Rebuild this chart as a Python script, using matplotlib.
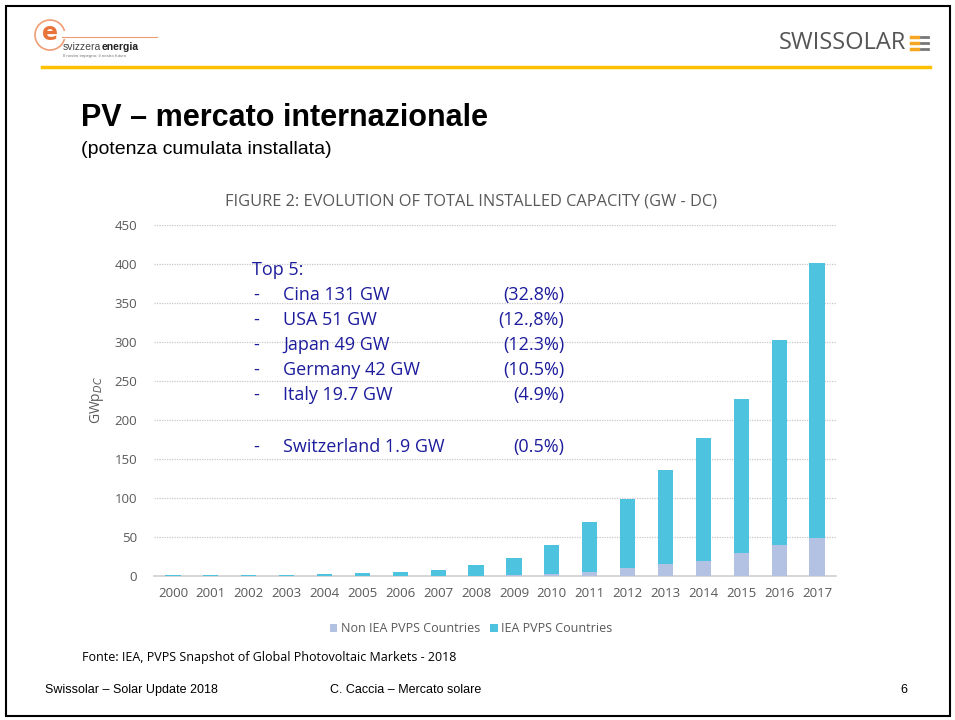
import matplotlib.pyplot as plt
import numpy as np
from matplotlib.patches import Rectangle, Arc

years = [str(y) for y in range(2000, 2018)]
non_iea = [0, 0, 0, 0.1, 0.2, 0.3, 0.4, 0.5, 0.6, 1.0, 2.5, 5, 10, 15, 19, 29, 40, 49]
iea = [0.8, 1.0, 1.2, 1.4, 2.4, 3.4, 5.1, 7.2, 13.4, 22, 37.5, 64, 89, 121, 157.5, 197.5, 262.5, 352]

top5_names = ["Cina 131 GW", "USA 51 GW", "Japan 49 GW", "Germany 42 GW", "Italy 19.7 GW"]
top5_pct = ["(32.8%)", "(12.,8%)", "(12.3%)", "(10.5%)", "(4.9%)"]
ch_name = "Switzerland 1.9 GW"
ch_pct = "(0.5%)"

c_iea = '#4DC3E0'
c_non = '#B3C2E3'
gray = '#595959'
navy = '#1C1C9C'
orange = '#E8743B'

fig = plt.figure(figsize=(9.55, 7.2), dpi=100)
W, H = 955, 720

def px(x, y):
    return x / W, 1 - y / H

# slide frame and header rule
fig.patches.append(Rectangle((6 / W, 1 - 716 / H), 944 / W, 710 / H, transform=fig.transFigure,
                             fill=False, edgecolor='black', linewidth=1.5))
fig.add_artist(plt.Line2D([42 / W, 930 / W], [1 - 67 / H] * 2, color='#FFC000', linewidth=2.5))

# svizzera energia logo (rough)
fig.patches.append(Arc(px(50, 35), 30 / W, 30 / H, theta1=20, theta2=340, transform=fig.transFigure,
                       edgecolor=orange, linewidth=1.2, alpha=0.7))
fig.text(*px(50, 33), "e", color=orange, fontsize=17, fontweight='bold', ha='center', va='center',
         family='DejaVu Sans')
fig.add_artist(plt.Line2D([62 / W, 157 / W], [1 - 37 / H] * 2, color=orange, linewidth=0.8, alpha=0.7))
t1 = fig.text(*px(63, 47), "svizzera", color='#444444', fontsize=7.5, ha='left', va='center',
              family='Liberation Sans')
fig.canvas.draw()
bb = t1.get_window_extent()
fig.text(bb.x1 / W + 0.5 / W, 1 - 47 / H, "energia", color='#222222', fontsize=7.5, fontweight='bold',
         ha='left', va='center', family='Liberation Sans')
fig.text(*px(63, 56), "Il nostro impegno: il nostro futuro", color='#777777', fontsize=3.2, ha='left',
         va='center', family='Liberation Sans')

# swissolar logo
fig.text(*px(906, 43), "SWISSOLAR", color='#555555', fontsize=17, ha='right', va='center', family='Open Sans')
for i in range(3):
    fig.add_artist(plt.Line2D([911 / W, 918 / W], [1 - (37 + 6 * i) / H] * 2, color='#F5A623', linewidth=2.5))
    fig.add_artist(plt.Line2D([921 / W, 928 / W], [1 - (37 + 6 * i) / H] * 2, color='#777777', linewidth=2))

# slide titles
fig.text(*px(81, 126), "PV – mercato internazionale", fontsize=22, fontweight='bold', ha='left', va='baseline',
         family='Liberation Sans')
fig.text(*px(81, 154), "(potenza cumulata installata)", fontsize=14, ha='left', va='baseline',
         family='Liberation Sans')

# chart
ax = fig.add_axes([154 / W, 1 - 576 / H, 682 / W, 351 / H])
x = np.arange(len(years))
ax.bar(x, non_iea, width=0.4, color=c_non, label='Non IEA PVPS Countries', zorder=3)
ax.bar(x, iea, width=0.4, bottom=non_iea, color=c_iea, label='IEA PVPS Countries', zorder=3)
ax.set_xlim(-0.5, len(years) - 0.5)
ax.set_ylim(0, 450)
ax.set_yticks(np.arange(0, 451, 50))
ax.set_xticks(x)
ax.set_xticklabels(years)
ax.yaxis.grid(True, linestyle=(0, (1, 1)), color='#C8C8C8', linewidth=0.9, zorder=0)
for s in ['top', 'right', 'left']:
    ax.spines[s].set_visible(False)
ax.spines['bottom'].set_color('#D0D0D0')
ax.spines['bottom'].set_linewidth(1.2)
ax.tick_params(length=0, colors=gray)
ax.tick_params(axis='y', pad=12)
ax.tick_params(axis='x', pad=8)
for lab in ax.get_xticklabels() + ax.get_yticklabels():
    lab.set_family('Open Sans')
    lab.set_fontsize(9.5)
ax.set_ylabel("GWp$_{DC}$", color=gray, fontsize=10, family='Open Sans', labelpad=6)
ax.set_title("FIGURE 2: EVOLUTION OF TOTAL INSTALLED CAPACITY (GW - DC)", color=gray, fontsize=11.8,
             family='Open Sans', pad=14, x=0.465)
leg = ax.legend(loc='upper center', bbox_to_anchor=(0.465, -0.1), ncol=2, frameon=False,
                handlelength=0.6, handleheight=0.6, handletextpad=0.3, columnspacing=0.8,
                prop={'family': 'Open Sans', 'size': 9})
for t in leg.get_texts():
    t.set_color(gray)

# annotation text
tf = 'Open Sans'
fs = 13
fig.text(*px(252, 270), "Top 5:", color=navy, fontsize=fs, va='center', family=tf)
rows_y = [295, 320, 345, 370, 395]
for yy, n, p in zip(rows_y, top5_names, top5_pct):
    fig.text(*px(253, yy), "-", color=navy, fontsize=fs, va='center', family=tf)
    fig.text(*px(283, yy), n, color=navy, fontsize=fs, va='center', family=tf)
    fig.text(*px(564, yy), p, color=navy, fontsize=fs, va='center', ha='right', family=tf)
fig.text(*px(253, 447), "-", color=navy, fontsize=fs, va='center', family=tf)
fig.text(*px(283, 447), ch_name, color=navy, fontsize=fs, va='center', family=tf)
fig.text(*px(564, 447), ch_pct, color=navy, fontsize=fs, va='center', ha='right', family=tf)

# source and footer
fig.text(*px(82, 657), "Fonte: IEA, PVPS Snapshot of Global Photovoltaic Markets - 2018", fontsize=9,
         va='center', family='Open Sans')
fig.text(*px(45, 690), "Swissolar – Solar Update 2018", fontsize=9, va='center', family='Liberation Sans')
fig.text(*px(330, 690), "C. Caccia – Mercato solare", fontsize=9, va='center', family='Liberation Sans')
fig.text(*px(900, 690), "6", fontsize=9, va='center', family='Liberation Sans')

fig.savefig('out.png', dpi=100)
